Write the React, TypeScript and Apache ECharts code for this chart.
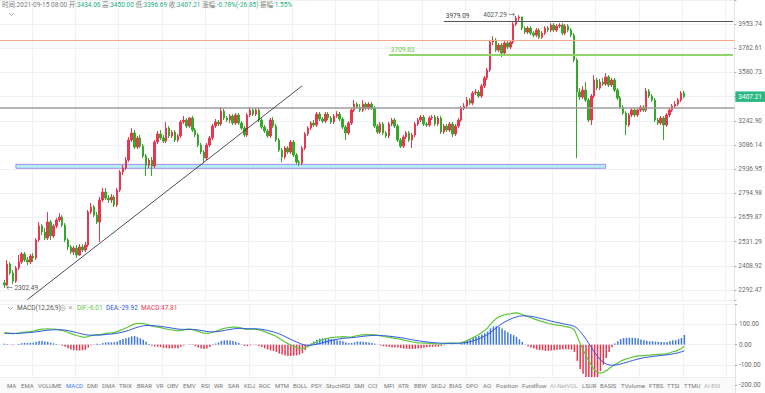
import React, { useEffect, useRef } from 'react';
import * as echarts from 'echarts';

// ---------- data ----------
const LAST_TIME = '2021-09-15 08:00';

// right-axis tick labels (log-spaced price ticks, index = tick number)
const priceTickLabels = ['2292.47', '2408.92', '2531.29', '2659.87', '2794.98', '2936.95', '3086.14', '3242.90', '', '3580.73', '3762.61', '3953.74'];

// [open, close, low, high]
const candles: number[][] = [
  [2326, 2316, 2302.49, 2340], [2316, 2418, 2310, 2438], [2418, 2374, 2364, 2428], [2374, 2335, 2321, 2388], [2335, 2398, 2326, 2408],
  [2398, 2428, 2388, 2463], [2428, 2468, 2418, 2478], [2468, 2438, 2428, 2478], [2438, 2428, 2413, 2453], [2428, 2458, 2418, 2468],
  [2458, 2448, 2428, 2473], [2448, 2540, 2438, 2550], [2540, 2614, 2530, 2635], [2614, 2582, 2566, 2624], [2582, 2550, 2540, 2603],
  [2550, 2635, 2540, 2690], [2635, 2561, 2540, 2646], [2561, 2614, 2550, 2624], [2614, 2646, 2603, 2657], [2646, 2662, 2635, 2684],
  [2662, 2619, 2608, 2673], [2619, 2540, 2530, 2630], [2540, 2504, 2488, 2550], [2504, 2478, 2468, 2514], [2478, 2498, 2463, 2509],
  [2498, 2463, 2448, 2514], [2463, 2504, 2458, 2519], [2504, 2488, 2478, 2519], [2488, 2514, 2478, 2530], [2514, 2690, 2504, 2701],
  [2690, 2718, 2679, 2740], [2718, 2673, 2662, 2729], [2673, 2635, 2624, 2690], [2635, 2757, 2530, 2774], [2757, 2802, 2746, 2826],
  [2802, 2768, 2757, 2826], [2768, 2757, 2740, 2785], [2757, 2774, 2740, 2791], [2774, 2729, 2718, 2785], [2729, 2814, 2718, 2826],
  [2814, 2920, 2802, 2932], [2920, 2944, 2902, 2962], [2944, 2992, 2932, 3011], [2992, 3118, 2980, 3137], [3118, 3163, 3105, 3195],
  [3163, 3073, 3060, 3182], [3073, 3131, 3060, 3144], [3131, 3079, 3067, 3150], [3079, 3017, 3005, 3092], [3017, 2962, 2896, 3029],
  [2962, 2992, 2944, 3005], [2992, 2956, 2896, 3011], [2956, 3105, 2944, 3118], [3105, 3157, 3092, 3176], [3157, 3131, 3118, 3182],
  [3131, 3111, 3099, 3150], [3111, 3195, 3099, 3235], [3195, 3144, 3131, 3208], [3144, 3169, 3131, 3182], [3169, 3118, 3105, 3182],
  [3118, 3144, 3105, 3157], [3144, 3235, 3131, 3248], [3235, 3248, 3222, 3275], [3248, 3208, 3195, 3262], [3208, 3262, 3195, 3268],
  [3262, 3182, 3169, 3275], [3182, 3150, 3137, 3195], [3150, 3086, 3073, 3163], [3086, 3042, 3029, 3099], [3042, 3005, 2980, 3054],
  [3005, 3086, 2992, 3099], [3086, 3131, 3073, 3144], [3131, 3208, 3118, 3222], [3208, 3235, 3195, 3255], [3235, 3222, 3208, 3248],
  [3222, 3308, 3208, 3335], [3308, 3262, 3248, 3322], [3262, 3248, 3235, 3275], [3248, 3275, 3228, 3288], [3275, 3228, 3215, 3288],
  [3228, 3282, 3215, 3295], [3282, 3228, 3215, 3295], [3228, 3195, 3182, 3241], [3195, 3150, 3137, 3208], [3150, 3282, 3137, 3295],
  [3282, 3315, 3268, 3335], [3315, 3288, 3275, 3328], [3288, 3315, 3275, 3328], [3315, 3248, 3235, 3328], [3248, 3202, 3189, 3262],
  [3202, 3176, 3163, 3215], [3176, 3144, 3131, 3189], [3144, 3248, 3131, 3262], [3248, 3208, 3195, 3268], [3208, 3118, 3105, 3222],
  [3118, 3054, 3042, 3131], [3054, 3011, 2980, 3067], [3011, 3067, 2998, 3079], [3067, 3042, 3029, 3079], [3042, 3105, 3029, 3118],
  [3105, 3023, 3011, 3118], [3023, 2980, 2968, 3036], [2980, 2974, 2956, 2992], [2974, 3067, 2962, 3079], [3067, 3157, 3054, 3169],
  [3157, 3195, 3144, 3208], [3195, 3228, 3182, 3241], [3228, 3215, 3202, 3248], [3215, 3288, 3202, 3302], [3288, 3255, 3241, 3302],
  [3255, 3241, 3228, 3268], [3241, 3288, 3228, 3302], [3288, 3262, 3248, 3302], [3262, 3235, 3222, 3275], [3235, 3275, 3222, 3288],
  [3275, 3288, 3262, 3308], [3288, 3255, 3241, 3302], [3255, 3202, 3189, 3268], [3202, 3163, 3118, 3215], [3163, 3228, 3150, 3241],
  [3228, 3315, 3215, 3328], [3315, 3356, 3302, 3384], [3356, 3335, 3322, 3370], [3335, 3315, 3302, 3356], [3315, 3356, 3302, 3384],
  [3356, 3328, 3315, 3370], [3328, 3356, 3315, 3370], [3356, 3328, 3315, 3370], [3328, 3208, 3195, 3342], [3208, 3169, 3157, 3222],
  [3169, 3222, 3157, 3235], [3222, 3163, 3150, 3235], [3163, 3144, 3131, 3176], [3144, 3222, 3131, 3235], [3222, 3248, 3208, 3262],
  [3248, 3208, 3195, 3262], [3208, 3118, 3105, 3222], [3118, 3079, 3067, 3131], [3079, 3137, 3067, 3150], [3137, 3163, 3124, 3176],
  [3163, 3118, 3105, 3176], [3118, 3150, 3067, 3163], [3150, 3222, 3137, 3235], [3222, 3248, 3208, 3262], [3248, 3268, 3235, 3282],
  [3268, 3222, 3208, 3282], [3222, 3215, 3202, 3235], [3215, 3262, 3202, 3275], [3262, 3268, 3248, 3282], [3268, 3222, 3208, 3282],
  [3222, 3262, 3208, 3275], [3262, 3169, 3157, 3275], [3169, 3208, 3157, 3222], [3208, 3182, 3169, 3222], [3182, 3222, 3169, 3235],
  [3222, 3157, 3137, 3235], [3157, 3208, 3144, 3222], [3208, 3248, 3195, 3262], [3248, 3328, 3235, 3342], [3328, 3342, 3315, 3363],
  [3342, 3384, 3328, 3405], [3384, 3363, 3349, 3398], [3363, 3433, 3349, 3447], [3433, 3440, 3419, 3461], [3440, 3412, 3398, 3454],
  [3412, 3483, 3398, 3497], [3483, 3541, 3468, 3555], [3541, 3599, 3526, 3614], [3599, 3811, 3585, 3827], [3811, 3827, 3788, 3858],
  [3827, 3749, 3734, 3842], [3749, 3788, 3734, 3804], [3788, 3726, 3696, 3804], [3726, 3804, 3711, 3819], [3804, 3772, 3757, 3827],
  [3772, 3811, 3757, 3827], [3811, 3954, 3796, 3970], [3954, 4003, 3938, 4020], [4003, 4012, 3978, 4027.29], [4012, 3922, 3906, 4015],
  [3922, 3890, 3874, 3938], [3890, 3922, 3874, 3938], [3922, 3882, 3866, 3938], [3882, 3866, 3850, 3898], [3866, 3906, 3850, 3922],
  [3906, 3850, 3835, 3922], [3850, 3882, 3835, 3898], [3882, 3922, 3866, 3938], [3922, 3906, 3890, 3938], [3906, 3946, 3890, 3962],
  [3946, 3906, 3890, 3962], [3906, 3938, 3890, 3954], [3938, 3946, 3922, 3962], [3946, 3882, 3866, 3962], [3882, 3938, 3866, 3954],
  [3938, 3906, 3890, 3954], [3906, 3866, 3850, 3922], [3866, 3673, 3658, 3882], [3673, 3440, 3004, 3688], [3440, 3405, 3384, 3468],
  [3405, 3454, 3391, 3483], [3454, 3384, 3370, 3511], [3384, 3248, 3235, 3398], [3248, 3412, 3215, 3426], [3412, 3526, 3398, 3562],
  [3526, 3468, 3454, 3541], [3468, 3511, 3454, 3533], [3511, 3497, 3483, 3541], [3497, 3548, 3483, 3577], [3548, 3490, 3476, 3562],
  [3490, 3526, 3476, 3541], [3526, 3454, 3440, 3541], [3454, 3398, 3384, 3468], [3398, 3335, 3322, 3412], [3335, 3295, 3282, 3349],
  [3295, 3215, 3150, 3308], [3215, 3282, 3202, 3295], [3282, 3315, 3268, 3328], [3315, 3282, 3268, 3328], [3282, 3315, 3268, 3328],
  [3315, 3335, 3302, 3349], [3335, 3315, 3302, 3349], [3315, 3447, 3302, 3468], [3447, 3412, 3398, 3461], [3412, 3384, 3370, 3426],
  [3384, 3248, 3235, 3398], [3248, 3228, 3215, 3262], [3228, 3262, 3215, 3275], [3262, 3215, 3118, 3275], [3215, 3282, 3202, 3295],
  [3282, 3315, 3268, 3328], [3315, 3342, 3302, 3356], [3342, 3356, 3328, 3377], [3356, 3384, 3342, 3398], [3384, 3434.06, 3370, 3447],
  [3434.06, 3407.21, 3396.69, 3450],
];

const dif = [
  58, 57, 55, 54, 55, 57, 60, 62, 63, 64, 66, 70, 74, 76, 77, 78, 77, 76, 75, 73,
  70, 66, 60, 54, 49, 45, 41, 38, 36, 40, 44, 47, 49, 48, 52, 55, 57, 58, 60, 64,
  70, 76, 82, 88, 96, 102, 104, 105, 104, 101, 96, 91, 88, 86, 84, 80, 77, 74, 72, 70,
  68, 70, 73, 75, 76, 74, 70, 65, 60, 56, 55, 57, 61, 66, 70, 76, 80, 83, 85, 86,
  86, 84, 81, 76, 75, 76, 77, 76, 73, 69, 64, 58, 52, 47, 40, 31, 22, 13, 5, -2,
  -8, -14, -18, -20, -16, -8, 0, 7, 14, 20, 25, 29, 32, 34, 36, 37, 38, 39, 38, 37,
  38, 41, 45, 47, 48, 49, 49, 49, 48, 46, 43, 40, 38, 36, 33, 31, 29, 26, 22, 19,
  16, 13, 11, 9, 8, 7, 7, 6, 5, 4, 3, 4, 5, 6, 7, 7, 6, 7, 10, 15,
  21, 28, 35, 42, 50, 60, 70, 82, 100, 116, 128, 137, 143, 147, 150, 152, 155, 156, 153, 148,
  142, 137, 132, 127, 122, 117, 113, 108, 104, 101, 98, 96, 94, 92, 89, 86, 82, 72, 40, 5,
  -25, -55, -80, -105, -125, -138, -140, -136, -128, -118, -108, -98, -90, -82, -75, -70, -66, -62, -58, -55,
  -55, -54, -53, -52, -50, -49, -48, -47, -46, -44, -40, -35, -32, -26, -19, -6.01,
];
const dea = [
  55.6, 55.9, 55.7, 55.4, 55.3, 55.6, 56.5, 57.6, 58.7, 59.7, 61.0, 62.8, 65.0, 67.2, 69.2, 70.9, 72.1, 72.9, 73.3, 73.3,
  72.6, 71.3, 69.0, 66.0, 62.6, 59.1, 55.5, 52.0, 48.8, 47.0, 46.4, 46.5, 47.0, 47.2, 48.2, 49.5, 51.0, 52.4, 54.0, 56.0,
  58.8, 62.2, 66.2, 70.5, 75.6, 80.9, 85.5, 89.4, 92.3, 94.1, 94.4, 93.8, 92.6, 91.3, 89.8, 87.9, 85.7, 83.3, 81.1, 78.9,
  76.7, 75.3, 74.9, 74.9, 75.1, 74.9, 73.9, 72.1, 69.7, 67.0, 64.6, 63.1, 62.7, 63.3, 64.7, 66.9, 69.5, 72.2, 74.8, 77.0,
  78.8, 79.9, 80.1, 79.3, 78.4, 77.9, 77.8, 77.4, 76.5, 75.0, 72.8, 69.9, 66.3, 62.4, 58.0, 52.6, 46.5, 39.8, 32.8, 25.9,
  19.1, 12.5, 6.4, 1.1, -2.3, -3.4, -2.7, -0.8, 2.2, 5.8, 9.6, 13.5, 17.2, 20.6, 23.6, 26.3, 28.7, 30.7, 32.2, 33.1,
  34.1, 35.5, 37.4, 39.3, 41.0, 42.6, 43.9, 44.9, 45.5, 45.6, 45.1, 44.1, 42.9, 41.5, 39.8, 38.0, 36.2, 34.2, 31.7, 29.2,
  26.5, 23.8, 21.3, 18.8, 16.7, 14.7, 13.2, 11.8, 10.4, 9.1, 7.9, 7.1, 6.7, 6.6, 6.6, 6.7, 6.6, 6.7, 7.3, 8.9,
  11.3, 14.7, 18.7, 23.4, 28.7, 35.0, 42.0, 50.0, 60.0, 71.2, 82.6, 93.5, 103.4, 112.1, 119.7, 126.1, 131.9, 136.7, 140.0, 141.6,
  141.7, 140.7, 139.0, 136.6, 133.7, 130.3, 126.9, 123.1, 119.3, 115.6, 112.1, 108.9, 105.9, 103.1, 100.3, 97.4, 94.4, 89.9, 79.9, 64.9,
  46.9, 26.5, 5.2, -16.8, -38.4, -58.3, -74.7, -86.9, -95.1, -99.7, -101.4, -100.7, -98.6, -95.3, -91.2, -87.0, -82.8, -78.6, -74.5, -70.6,
  -67.5, -64.8, -62.4, -60.3, -58.3, -56.4, -54.7, -53.2, -51.7, -50.2, -48.2, -45.5, -42.8, -39.4, -35.3, -29.92,
];
const macdHist = [
  4.8, 2.2, -1.4, -2.8, -0.6, 2.8, 7, 8.8, 8.6, 8.6, 10, 14.4, 18, 17.6, 15.6, 14.2, 9.8, 6.2, 3.4, -0.6,
  -5.2, -10.6, -18, -24, -27.2, -28.2, -29, -28, -25.6, -14, -4.8, 1, 4, 1.6, 7.6, 11, 12, 11.2, 12, 16,
  22.4, 27.6, 31.6, 35, 40.8, 42.2, 37, 31.2, 23.4, 13.8, 3.2, -5.6, -9.2, -10.6, -11.6, -15.8, -17.4, -18.6, -18.2, -17.8,
  -17.4, -10.6, -3.8, 0.2, 1.8, -1.8, -7.8, -14.2, -19.4, -22, -19.2, -12.2, -3.4, 5.4, 10.6, 18.2, 21, 21.6, 20.4, 18,
  14.4, 8.2, 1.8, -6.6, -6.8, -3.8, -1.6, -2.8, -7, -12, -17.6, -23.8, -28.6, -30.8, -36, -43.2, -49, -53.6, -55.6, -55.8,
  -54.2, -53, -48.8, -42.2, -27.4, -9.2, 5.4, 15.6, 23.6, 28.4, 30.8, 31, 29.6, 26.8, 24.8, 21.4, 18.6, 16.6, 11.6, 7.8,
  7.8, 11, 15.2, 15.4, 14, 12.8, 10.2, 8.2, 5, 0.8, -4.2, -8.2, -9.8, -11, -13.6, -14, -14.4, -16.4, -19.4, -20.4,
  -21, -21.6, -20.6, -19.6, -17.4, -15.4, -12.4, -11.6, -10.8, -10.2, -9.8, -6.2, -3.4, -1.2, 0.8, 0.6, -1.2, 0.6, 5.4, 12.2,
  19.4, 26.6, 32.6, 37.2, 42.6, 50, 56, 64, 80, 89.6, 90.8, 87, 79.2, 69.8, 60.6, 51.8, 46.2, 38.6, 26, 12.8,
  0.6, -7.4, -14, -19.2, -23.4, -26.6, -27.8, -30.2, -30.6, -29.2, -28.2, -25.8, -23.8, -22.2, -22.6, -22.8, -24.8, -35.8, -79.8, -119.8,
  -143.8, -163, -170.4, -176.4, -173.2, -159.4, -130.6, -98.2, -65.8, -36.6, -13.2, 5.4, 17.2, 26.6, 32.4, 34, 33.6, 33.2, 33, 31.2,
  25, 21.6, 18.8, 16.6, 16.6, 14.8, 13.4, 12.4, 11.4, 12.4, 16.4, 21, 21.6, 26.8, 32.6, 47.81,
];

// drawn price levels
const levelHigh = 3979.09;
const levelOrange = 3827;
const levelGreen = 3709.83;
const levelGray = 3331;
const highPoint = [179, 4027.29];
const lowPoint = [1, 2302.49];
const zonePrices = [2942, 2966];
const zoneSlots = [5, 209];
const trendStart = [9, 2248];
const trendEnd = [104, 3484];
const greenLineStart = 134;
const highLineStart = 153;

const indicatorTabs = ['MA', 'EMA', 'VOLUME', 'MACD', 'DMI', 'DMA', 'TRIX', 'BRAR', 'VR', 'OBV', 'EMV', 'RSI', 'WR', 'SAR', 'KDJ', 'ROC', 'MTM', 'BOLL', 'PSY', 'StochRSI', 'SMI', 'CCI', 'MFI', 'ATR', 'BBW', 'SKDJ', 'BIAS', 'DPO', 'AO', 'Position', 'Fundflow', 'AI-NetVOL', 'LSUR', 'BASIS', 'TVolume', 'FTBS', 'TTSI', 'TTMU', 'AI-BSI'];
const tabX = [7, 21, 38, 66, 87, 102, 119, 137, 156, 167, 183, 201, 214, 228, 244, 259, 275, 293, 311, 326, 354, 368, 384, 398, 414, 431, 449, 466, 483, 496, 522, 550, 582, 600, 621, 649, 667, 684, 704];

// ---------- helpers ----------
const SLOTS = 254;
const BASE = 2292.47;
const STEP = Math.log(3953.74 / BASE) / 11;
const kv = (p: number) => Math.log(p / BASE) / STEP;

const UP = '#e8374f';
const DOWN = '#35a829';
const TEAL = '#23ad7c';
const FONT = 'Roboto, "Noto Sans CJK SC", sans-serif';

export default function App() {
  const ref = useRef<HTMLDivElement>(null);
  useEffect(() => {
    if (!ref.current) return;
    const chart = echarts.init(ref.current, null, { renderer: 'svg' });
    const cats = Array.from({ length: SLOTS }, (_, i) => String(i));
    const kData: any[] = ['-', ...candles.map((c) => c.map(kv))];
    const last = candles[candles.length - 1];
    const chg = last[1] - last[0];
    const pct = (chg / last[0]) * 100;
    const amp = ((last[3] - last[2]) / last[0]) * 100;
    const f2 = (v: number) => v.toFixed(2);

    const splitFn = (i: number) => i >= 11 && (i - 11) % 15 === 0;
    const gridColor = '#f0f1f4';

    const headerText =
      `{l|时间:${LAST_TIME}} {l|开:}{v|${f2(last[0])}} {l|高:}{v|${f2(last[3])}} {l|低:}{v|${f2(last[2])}} ` +
      `{l|收:}{v|${f2(last[1])}} {l|涨幅:}{v|${f2(pct)}%(${f2(chg)})} {l|振幅:}{v|${f2(amp)}%}`;

    const lastDif = dif[dif.length - 1];
    const lastDea = dea[dea.length - 1];
    const lastHist = macdHist[macdHist.length - 1];

    const tabTexts = indicatorTabs.map((t, i) => ({
      type: 'text',
      x: tabX[i],
      y: 385,
      z: 101,
      style: {
        text: t,
        fontSize: 6,
        fontFamily: FONT,
        fill: t === 'MACD' ? '#3e7cf0' : t.startsWith('AI-') ? '#b3b3b3' : '#777',
        verticalAlign: 'middle',
      },
    }));

    const option: any = {
      animation: false,
      backgroundColor: '#fff',
      textStyle: { fontFamily: FONT },
      grid: [
        { left: 0, right: 30, top: 0, height: 300 },
        { left: 0, right: 30, top: 304, height: 89 },
      ],
      xAxis: [
        {
          type: 'category', gridIndex: 0, data: cats, boundaryGap: true,
          axisLine: { show: false }, axisTick: { show: false }, axisLabel: { show: false },
          splitLine: { show: true, interval: splitFn, lineStyle: { color: gridColor, width: 1 } },
        },
        {
          type: 'category', gridIndex: 1, data: cats, boundaryGap: true,
          axisLine: { show: false }, axisTick: { show: false }, axisLabel: { show: false },
          splitLine: { show: true, interval: splitFn, lineStyle: { color: gridColor, width: 1 } },
        },
      ],
      yAxis: [
        {
          type: 'value', gridIndex: 0, position: 'right', min: -0.414, max: 12,
          splitNumber: 12, minInterval: 1, maxInterval: 1,
          axisLine: { show: true, lineStyle: { color: '#e4e4e4' } },
          axisTick: { show: true, length: 2, lineStyle: { color: '#aaa' } },
          axisLabel: {
            fontSize: 6.5, color: '#6b6b6b', margin: 4,
            formatter: (v: number) => {
              const r = Math.round(v);
              if (Math.abs(v - r) > 1e-6) return '';
              return priceTickLabels[r] ?? '';
            },
          },
          splitLine: { show: true, lineStyle: { color: gridColor } },
        },
        {
          type: 'value', gridIndex: 1, position: 'right', min: -238, max: 199.9,
          splitNumber: 4, minInterval: 100, maxInterval: 100,
          axisLine: { show: true, lineStyle: { color: '#e4e4e4' } },
          axisTick: { show: true, length: 2, lineStyle: { color: '#aaa' } },
          axisLabel: {
            fontSize: 6.5, color: '#6b6b6b', margin: 4,
            formatter: (v: number) => (Math.abs(v % 100) < 1e-6 ? v.toFixed(2) : ''),
          },
          splitLine: { show: true, lineStyle: { color: gridColor } },
        },
      ],
      series: [
        {
          type: 'candlestick', xAxisIndex: 0, yAxisIndex: 0, data: kData, barWidth: 2,
          itemStyle: { color: UP, color0: DOWN, borderColor: UP, borderColor0: DOWN, borderWidth: 1 },
          markArea: {
            silent: true,
            itemStyle: { color: 'rgba(168,236,242,0.85)', borderColor: '#a68cf2', borderWidth: 1 },
            data: [[{ coord: [zoneSlots[0], kv(zonePrices[1])] }, { coord: [zoneSlots[1], kv(zonePrices[0])] }]],
          },
          markLine: {
            silent: true, symbol: ['none', 'none'], animation: false,
            label: { show: false },
            data: [
              { yAxis: kv(levelOrange), lineStyle: { color: '#f6a88a', width: 1, type: 'solid' } },
              { yAxis: kv(levelGray), lineStyle: { color: '#9d9d9d', width: 1.6, type: 'solid' } },
              [
                {
                  coord: [greenLineStart, kv(levelGreen)],
                  lineStyle: { color: '#93d46c', width: 2, type: 'solid' },
                  label: { show: true, position: 'insideStartTop', formatter: f2(levelGreen), color: '#72c447', fontSize: 6.5, distance: 2 },
                },
                { coord: [SLOTS - 1, kv(levelGreen)] },
              ],
              [
                {
                  coord: [highLineStart, kv(levelHigh)],
                  lineStyle: { color: '#555', width: 1, type: 'solid' },
                  label: { show: true, position: 'insideStartTop', formatter: f2(levelHigh), color: '#444', fontSize: 6.5, distance: 2 },
                },
                { coord: [SLOTS - 1, kv(levelHigh)] },
              ],
              [
                { coord: [trendStart[0], kv(trendStart[1])], lineStyle: { color: '#222', width: 0.8, type: 'solid' } },
                { coord: [trendEnd[0], kv(trendEnd[1])] },
              ],
              {
                yAxis: kv(last[1]),
                lineStyle: { color: 'rgba(0,0,0,0)', width: 0 },
                label: {
                  show: true, position: 'end', formatter: f2(last[1]), color: '#fff', backgroundColor: '#2bb884',
                  padding: [2, 3, 2, 3], fontSize: 6.5, distance: 1,
                },
              },
            ],
          },
          markPoint: {
            silent: true, symbol: 'circle', symbolSize: 0,
            data: [
              { coord: [highPoint[0], kv(highPoint[1])], label: { show: true, position: 'left', formatter: `${f2(highPoint[1])} →`, color: '#555', fontSize: 6.5, distance: 4 } },
              { coord: [lowPoint[0], kv(lowPoint[1])], label: { show: true, position: 'right', formatter: `← ${f2(lowPoint[1])}`, color: '#555', fontSize: 6.5, distance: 2 } },
            ],
          },
        },
        {
          type: 'bar', xAxisIndex: 1, yAxisIndex: 1, barWidth: 1.5,
          data: ['-', ...macdHist.map((v) => ({ value: v, itemStyle: { color: v >= 0 ? '#3f78dd' : '#e8374f' } }))],
        },
        {
          type: 'line', xAxisIndex: 1, yAxisIndex: 1, showSymbol: false, data: ['-', ...dif],
          lineStyle: { color: '#5cc83a', width: 1.2 },
        },
        {
          type: 'line', xAxisIndex: 1, yAxisIndex: 1, showSymbol: false, data: ['-', ...dea],
          lineStyle: { color: '#2f57e0', width: 1 },
        },
      ],
      graphic: [
        {
          type: 'text', x: 2, y: 5, z: 100,
          style: {
            text: headerText, fontFamily: FONT, fontSize: 6.5, verticalAlign: 'middle',
            rich: { l: { fill: '#7a7a7a', fontSize: 6.5, fontFamily: FONT }, v: { fill: TEAL, fontSize: 6.5, fontFamily: FONT } },
          },
        },
        { type: 'polyline', z: 100, shape: { points: [[9, 13], [11.5, 15.5], [14, 13]] }, style: { stroke: '#999', lineWidth: 0.8, fill: 'none' } },
        { type: 'polyline', z: 100, shape: { points: [[8, 307], [10.5, 309.5], [13, 307]] }, style: { stroke: '#999', lineWidth: 0.8, fill: 'none' } },
        { type: 'text', x: 17, y: 308, z: 100, style: { text: 'MACD(12,26,9)', fontSize: 6.5, fontFamily: FONT, fill: '#555', verticalAlign: 'middle' } },
        { type: 'circle', z: 100, shape: { cx: 62.5, cy: 308, r: 2.6 }, style: { stroke: '#aaa', lineWidth: 0.8, fill: 'none' } },
        { type: 'circle', z: 100, shape: { cx: 62.5, cy: 308, r: 1 }, style: { stroke: '#aaa', lineWidth: 0.6, fill: 'none' } },
        { type: 'text', x: 68.5, y: 308, z: 100, style: { text: '×', fontSize: 7, fontFamily: FONT, fill: '#999', verticalAlign: 'middle' } },
        {
          type: 'text', x: 77, y: 308, z: 100,
          style: {
            text: `{a|DIF:${f2(lastDif)}}  {b|DEA:${f2(lastDea)}}  {c|MACD:${f2(lastHist)}}`,
            fontSize: 6.5, fontFamily: FONT, verticalAlign: 'middle',
            rich: {
              a: { fill: '#5cc83a', fontSize: 6.5, fontFamily: FONT },
              b: { fill: '#2f57e0', fontSize: 6.5, fontFamily: FONT },
              c: { fill: '#e8374f', fontSize: 6.5, fontFamily: FONT },
            },
          },
        },
        { type: 'rect', z: 100, shape: { x: 0, y: 377, width: 735, height: 16 }, style: { fill: '#fafafa', stroke: 'none' } },
        { type: 'line', z: 100, shape: { x1: 0, y1: 377.5, x2: 735, y2: 377.5 }, style: { stroke: '#ececec', lineWidth: 1 } },
        ...tabTexts,
      ],
    };
    chart.setOption(option);
    return () => chart.dispose();
  }, []);
  return <div ref={ref} style={{ position: 'fixed', left: 0, top: 0, width: 765, height: 393, background: '#fff' }} />;
}
